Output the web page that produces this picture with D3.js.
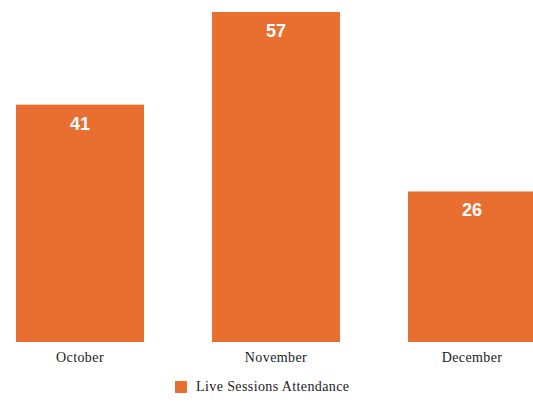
<!DOCTYPE html>
<html>
<head>
<meta charset="utf-8">
<script src="https://cdn.jsdelivr.net/npm/d3@7"></script>
<style>
  html, body { margin: 0; padding: 0; background: #fff; }
  svg { display: block; }
</style>
</head>
<body>
<svg id="chart" width="533" height="402"></svg>
<script>
const categories = ["October", "November", "December"];
const values = [41, 57, 26];
const seriesName = "Live Sessions Attendance";

const svg = d3.select("#chart");
const color = "#E86F30";

const x = d3.scaleBand().domain(categories).range([16, 536]).paddingInner(0.347).paddingOuter(0);
const y = d3.scaleLinear().domain([0, 57]).range([342, 12]);

svg.selectAll("rect.bar").data(values).join("rect")
  .attr("class", "bar")
  .attr("x", (d, i) => x(categories[i]))
  .attr("y", d => y(d))
  .attr("width", x.bandwidth())
  .attr("height", d => y(0) - y(d))
  .attr("fill", color);

svg.selectAll("text.val").data(values).join("text")
  .attr("class", "val")
  .attr("x", (d, i) => x(categories[i]) + x.bandwidth() / 2)
  .attr("y", d => y(d) + 25)
  .attr("text-anchor", "middle")
  .attr("fill", "#fff")
  .attr("font-family", "Liberation Sans, Arial, sans-serif")
  .attr("font-weight", "bold")
  .attr("font-size", 18)
  .text(d => d);

const xAxis = d3.axisBottom(x).tickSize(0).tickPadding(0);
const gx = svg.append("g").attr("transform", "translate(0,352)").call(xAxis);
gx.select(".domain").remove();
gx.selectAll("text")
  .attr("font-family", "Liberation Serif, Times New Roman, serif")
  .attr("font-size", 14)
  .attr("letter-spacing", "0.4px")
  .attr("fill", "#222");

const leg = svg.append("g").attr("transform", "translate(175,381)");
leg.append("rect").attr("width", 12).attr("height", 12).attr("fill", color);
leg.append("text").attr("x", 21).attr("y", 10)
  .attr("font-family", "Liberation Serif, Times New Roman, serif")
  .attr("font-size", 14)
  .attr("letter-spacing", "0.4px")
  .attr("fill", "#222")
  .text(seriesName);
</script>
</body>
</html>
